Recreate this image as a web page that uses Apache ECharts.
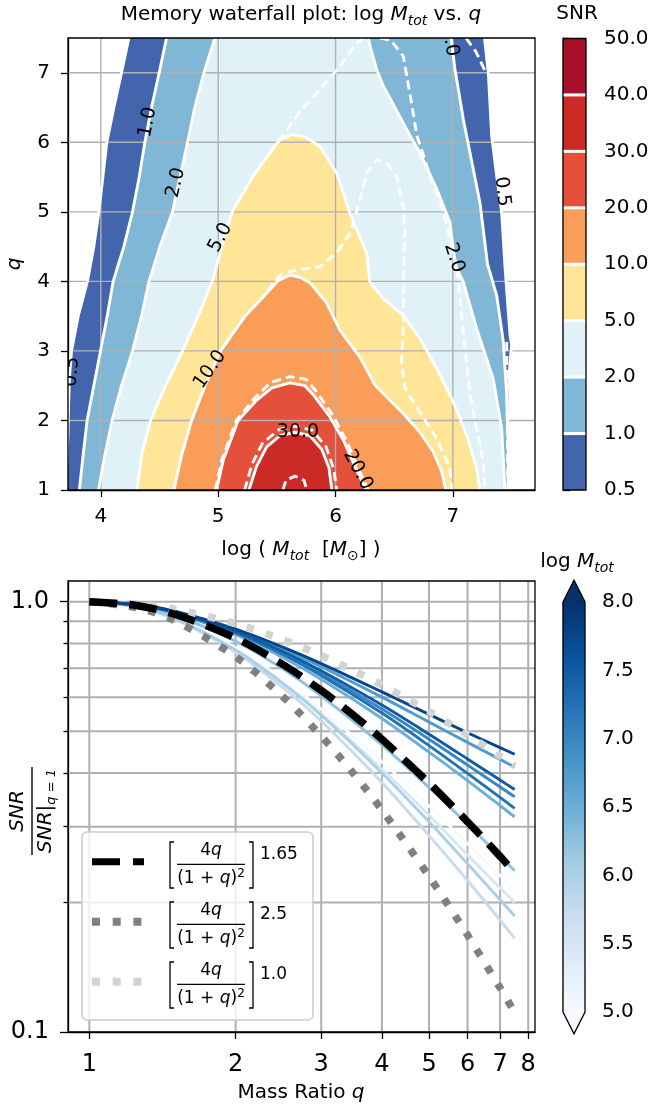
<!DOCTYPE html>
<html><head><meta charset="utf-8">
<script src="https://cdn.jsdelivr.net/npm/echarts@6/dist/echarts.min.js"></script>
<style>html,body{margin:0;padding:0;background:#fff}#c{width:652px;height:1110px}</style>
</head><body><div id="c"></div>
<script>
// ===================== DATA =====================
// ---- top panel: SNR contours in (log Mtot, q) ----
const topXTicks = [4, 5, 6, 7];
const topYTicks = [1, 2, 3, 4, 5, 6, 7];
const snrLevels = [0.5, 1, 2, 5, 10, 20, 30, 40, 50];
// solid contour boundaries [logM, q]
const c05Left  = [[3.70,1],[3.72,1.8],[3.725,2.2],[3.732,2.6],[3.75,3],[3.807,3.5],[3.885,4],[3.94,4.5],[3.983,5],[4.017,5.5],[4.051,6],[4.111,6.5],[4.176,7],[4.239,7.5]];
const c05Right = [[7.27,7.5],[7.302,7.0],[7.331,6.09],[7.373,5.52],[7.416,4.99],[7.444,4.22],[7.487,3.23],[7.501,3.08],[7.487,2.84],[7.472,2.46]];
const c1Left   = [[3.817,1],[3.849,1.5],[3.883,2],[3.94,2.5],[3.997,3],[4.054,3.5],[4.105,4],[4.196,4.5],[4.27,5],[4.327,5.5],[4.375,6],[4.432,6.5],[4.497,7],[4.56,7.5]];
const c1Right  = [[6.985,7.5],[7.018,7.05],[7.089,6.33],[7.146,5.85],[7.231,5.13],[7.295,4.25],[7.373,3.80],[7.43,3.13],[7.459,2.36],[7.472,1.64],[7.472,1]];
const c2Left   = [[3.98,1],[4.034,1.5],[4.096,2],[4.176,2.5],[4.27,3],[4.347,3.5],[4.41,4],[4.503,4.5],[4.611,5],[4.674,5.5],[4.739,6],[4.80,6.5],[4.878,7],[4.972,7.5]];
const c2Right  = [[6.28,7.5],[6.30,7.35],[6.35,7.05],[6.407,6.81],[6.49,6.55],[6.577,6.28],[6.65,6.05],[6.719,5.85],[6.862,5.33],[6.975,4.85],[7.003,4.46],[7.03,4.2],[7.089,3.99],[7.203,3.32],[7.344,2.60],[7.416,1.88],[7.444,1]];
const c5  = [[4.309,1],[4.347,1.5],[4.424,2],[4.552,2.5],[4.697,3],[4.829,3.5],[4.949,4],[5.032,4.5],[5.119,5],[5.296,5.51],[5.441,5.85],[5.526,6.04],[5.626,6.11],[5.739,6.08],[5.867,5.94],[6.009,5.56],[6.123,4.98],[6.265,4.41],[6.293,3.99],[6.407,3.75],[6.577,3.51],[6.719,3.18],[6.862,2.75],[7.003,2.27],[7.118,1.79],[7.203,1.31],[7.231,1]];
const c10 = [[4.622,1],[4.688,1.5],[4.773,2],[4.887,2.5],[5.02,3],[5.228,3.5],[5.413,3.83],[5.509,4.01],[5.611,4.09],[5.696,4.06],[5.782,3.98],[5.924,3.69],[6.037,3.30],[6.208,2.91],[6.336,2.51],[6.464,2.29],[6.577,2.10],[6.719,1.83],[6.833,1.55],[6.905,1.26],[6.941,1]];
const c20 = [[4.986,1],[5.043,1.43],[5.17,2],[5.327,2.29],[5.458,2.47],[5.611,2.54],[5.739,2.5],[5.81,2.37],[5.952,2.05],[6.066,1.72],[6.18,1.29],[6.26,1]];
const c30 = [[5.262,1],[5.327,1.34],[5.413,1.62],[5.526,1.78],[5.654,1.83],[5.782,1.78],[5.884,1.58],[5.944,1.32],[5.969,1]];
// dashed (second model) contours
const d5Upper  = [[5.441,5.85],[5.526,6.04],[5.696,6.44],[5.867,6.76],[6.037,7.09],[6.18,7.43],[6.235,7.5]];
const d2Right  = [[6.38,7.5],[6.47,7.47],[6.577,7.24],[6.637,6.67],[6.694,6.09],[6.75,5.81],[6.805,5.52],[6.90,5.1],[6.98,4.6],[7.04,4.12],[7.086,3.32],[7.146,2.37],[7.257,1.4],[7.274,1]];
const d10      = [[4.622,1],[4.688,1.5],[4.773,2],[4.887,2.5],[5.02,3],[5.228,3.5],[5.413,3.83],[5.483,4.02],[5.554,4.12],[5.696,4.17],[5.867,4.21],[6.009,4.41],[6.123,4.69],[6.208,5.17],[6.265,5.56],[6.35,5.75],[6.436,5.70],[6.521,5.51],[6.577,5.08],[6.592,4.69],[6.583,4.28],[6.577,3.32],[6.563,2.84],[6.592,2.46],[6.719,2.12],[6.862,1.74],[6.975,1.31],[6.99,1]];
const d20      = [[4.975,1],[5.03,1.43],[5.155,2],[5.315,2.33],[5.45,2.55],[5.611,2.63],[5.75,2.59],[5.83,2.43],[5.975,2.08],[6.09,1.72],[6.2,1.29],[6.28,1]];
const d30      = [[5.225,1],[5.29,1.38],[5.38,1.68],[5.52,1.87],[5.654,1.92],[5.80,1.86],[5.92,1.62],[5.985,1.3],[6.01,1]];
const d40      = [[5.552,1],[5.577,1.14],[5.654,1.2],[5.731,1.14],[5.756,1]];
const d1Right  = [[7.112,7.5],[7.197,7.3],[7.282,7.0]];
const d05Right = [[7.459,3.13],[7.461,2.29],[7.466,1.58],[7.47,1]];
// inline contour labels
const contourLabelText = ['1.0','2.0','5.0','10.0','30.0','20.0','2.0','0.5','1.0','0.5'];
const contourLabelPos  = [[4.40,6.29],[4.64,5.42],[5.02,4.63],[4.93,2.73],[5.68,1.83],[6.19,1.29],[7.01,4.34],[7.42,5.29],[6.975,7.45],[3.753,2.70]];
const contourLabelAngle = [79, 77, 62, 55, 0, -62, -72, -83, -80, 85];

// ---- bottom panel: SNR / SNR(q=1) vs q ----
const qGrid = [1, 1.25, 1.5, 2, 2.5, 3, 4, 5, 6, 7, 7.5];
const logMValues = [5.0, 5.5, 5.75, 6.0, 6.25, 6.5, 6.75, 7.0, 7.25, 7.5, 7.75];
const ratioM500 = [1, 0.974, 0.918, 0.781, 0.661, 0.563, 0.425, 0.335, 0.274, 0.231, 0.214];
const ratioM550 = [1, 0.973, 0.914, 0.772, 0.648, 0.549, 0.408, 0.319, 0.258, 0.216, 0.200];
const ratioM575 = [1, 0.972, 0.910, 0.763, 0.632, 0.528, 0.380, 0.286, 0.225, 0.182, 0.165];
const ratioM600 = [1, 0.973, 0.914, 0.772, 0.646, 0.545, 0.400, 0.308, 0.246, 0.203, 0.186];
const ratioM625 = [1, 0.978, 0.929, 0.809, 0.698, 0.604, 0.465, 0.370, 0.304, 0.256, 0.237];
const ratioM650 = [1, 0.982, 0.941, 0.838, 0.742, 0.660, 0.535, 0.447, 0.384, 0.336, 0.316];
const ratioM675 = [1, 0.984, 0.948, 0.858, 0.776, 0.706, 0.600, 0.525, 0.471, 0.430, 0.413];
const ratioM700 = [1, 0.983, 0.944, 0.848, 0.758, 0.681, 0.563, 0.479, 0.417, 0.371, 0.352];
const ratioM725 = [1, 0.983, 0.944, 0.846, 0.754, 0.674, 0.551, 0.463, 0.399, 0.351, 0.331];
const ratioM750 = [1, 0.983, 0.946, 0.853, 0.766, 0.691, 0.575, 0.492, 0.431, 0.385, 0.366];
const ratioM775 = [1, 0.985, 0.950, 0.863, 0.784, 0.718, 0.617, 0.547, 0.496, 0.458, 0.442];
const qRef = [1, 1.25, 1.5, 2, 2.5, 3, 3.5, 4, 5, 6, 7, 7.5];
const refPow165 = [1, 0.980, 0.935, 0.823, 0.715, 0.622, 0.544, 0.479, 0.379, 0.308, 0.256, 0.2345];
const refPow25  = [1, 0.969, 0.903, 0.745, 0.602, 0.487, 0.398, 0.328, 0.230, 0.168, 0.1266, 0.111];
const refPow10  = [1, 0.988, 0.960, 0.889, 0.816, 0.750, 0.691, 0.640, 0.556, 0.490, 0.4375, 0.415];
const bottomXTicks = [1, 2, 3, 4, 5, 6, 7, 8];
const bottomYMajor = [0.1, 1];
const bottomYMinor = [0.2, 0.3, 0.4, 0.5, 0.6, 0.7, 0.8, 0.9];
const massCbTicks = [5, 5.5, 6, 6.5, 7, 7.5, 8];

// ===================== STYLE / BUILD =====================
const F = 'DejaVu Sans';
const bandColors = ['#4265ae','#80b6d6','#e0f2f8','#fee597','#f99d59','#e5503a','#cc2a27','#a8102a'];
const bluesStops = ['#f7fbff','#deebf7','#c6dbef','#9ecae1','#6baed6','#4292c6','#2171b5','#08519c','#08306b'];
function hex(h){return [1,3,5].map(i=>parseInt(h.substr(i,2),16));}
function blues(t){t=Math.max(0,Math.min(1,t));const s=t*8;const i=Math.min(7,Math.floor(s));const f=s-i;const a=hex(bluesStops[i]),b=hex(bluesStops[i+1]);return 'rgb('+a.map((v,k)=>Math.round(v+(b[k]-v)*f)).join(',')+')';}

const fillShapes = [
  {pts: c05Left.concat(c05Right, c1Right.slice(-2)), band: 0},
  {pts: c1Left.concat(c1Right), band: 1},
  {pts: c2Left.concat(c2Right), band: 2},
  {pts: c5, band: 3},
  {pts: c10, band: 4},
  {pts: c20, band: 5},
  {pts: c30, band: 6}
];
const solidLines = [c05Left, c05Right, c1Left, c1Right, c2Left, c2Right, c5, c10, c20, c30];
const dashedLines = [d5Upper, d2Right, d10, d20, d30, d40, d1Right, d05Right];
const allContourLines = solidLines.map(p=>({p, dash:false})).concat(dashedLines.map(p=>({p, dash:true})));

const massRatios = [ratioM500, ratioM550, ratioM575, ratioM600, ratioM625, ratioM650, ratioM675, ratioM700, ratioM725, ratioM750, ratioM775];

function rectOf(cs){return {x:cs.x, y:cs.y, width:cs.width, height:cs.height};}

const series = [];
// --- top: filled bands
series.push({
  type:'custom', xAxisIndex:0, yAxisIndex:0, z:1, clip:true, silent:true,
  data: fillShapes.map(s=>s.pts[0]),
  renderItem:(params, api)=>{
    const s = fillShapes[params.dataIndex];
    const pts = echarts.graphic.clipPointsByRect(s.pts.map(p=>api.coord(p)), rectOf(params.coordSys));
    return {type:'polygon', shape:{points:pts}, style:{fill:bandColors[s.band]}};
  }
});
// --- top: grid lines (above fill)
series.push({
  type:'custom', xAxisIndex:0, yAxisIndex:0, z:2, silent:true,
  data: topXTicks.map(v=>[v,1]),
  renderItem:(params, api)=>{
    const v = api.value(0); const a = api.coord([v,1]), b = api.coord([v,7.5]);
    return {type:'line', shape:{x1:a[0],y1:a[1],x2:b[0],y2:b[1]}, style:{stroke:'#b0b0b0', lineWidth:1.4}};
  }
});
series.push({
  type:'custom', xAxisIndex:0, yAxisIndex:0, z:2, silent:true,
  data: topYTicks.slice(1).map(v=>[4,v]),
  renderItem:(params, api)=>{
    const v = api.value(1); const a = api.coord([3.72,v]), b = api.coord([7.7,v]);
    return {type:'line', shape:{x1:a[0],y1:a[1],x2:b[0],y2:b[1]}, style:{stroke:'#b0b0b0', lineWidth:1.4}};
  }
});
// --- top: contour lines
series.push({
  type:'custom', xAxisIndex:0, yAxisIndex:0, z:3, clip:true, silent:true,
  data: allContourLines.map(c=>c.p[0]),
  renderItem:(params, api)=>{
    const c = allContourLines[params.dataIndex];
    return {type:'polyline', shape:{points:c.p.map(p=>api.coord(p))},
      style:{stroke:'#fff', lineWidth:2.9, fill:null, lineDash: c.dash ? [9,5] : null, lineCap:'butt', lineJoin:'round'}};
  }
});
// --- top: contour labels
series.push({
  type:'custom', xAxisIndex:0, yAxisIndex:0, z:4, clip:true, silent:true,
  data: contourLabelPos,
  renderItem:(params, api)=>{
    const i = params.dataIndex; const p = api.coord(contourLabelPos[i]);
    return {type:'text', x:p[0], y:p[1], rotation: contourLabelAngle[i]*Math.PI/180,
      style:{text:contourLabelText[i], x:0, y:0, fill:'#000', fontSize:19, fontFamily:F, align:'center', verticalAlign:'middle'}};
  }
});
// --- frames
function frameSeries(xi, yi){
  return {type:'custom', xAxisIndex:xi, yAxisIndex:yi, z:6, silent:true, data:[[0,0]],
    renderItem:(params)=>{const cs=params.coordSys;return {type:'rect', shape:rectOf(cs), style:{fill:null, stroke:'#000', lineWidth:1.3}};}};
}
series.push(frameSeries(0,0));

// --- bottom: grid lines
series.push({
  type:'custom', xAxisIndex:1, yAxisIndex:1, z:1, silent:true,
  data: bottomXTicks.map(v=>[v,0.5]),
  renderItem:(params, api)=>{
    const v = api.value(0); const a = api.coord([v,0.1]), b = api.coord([v,1.117]);
    return {type:'line', shape:{x1:a[0],y1:a[1],x2:b[0],y2:b[1]}, style:{stroke:'#b0b0b0', lineWidth:2}};
  }
});
series.push({
  type:'custom', xAxisIndex:1, yAxisIndex:1, z:1, silent:true,
  data: bottomYMinor.concat([1]).map(v=>[2,v]),
  renderItem:(params, api)=>{
    const v = api.value(1); const a = api.coord([0.904,v]), b = api.coord([8.26,v]);
    return {type:'line', shape:{x1:a[0],y1:a[1],x2:b[0],y2:b[1]}, style:{stroke:'#b0b0b0', lineWidth:2}};
  }
});
// --- bottom: mass curves
massRatios.forEach((vals, k)=>{
  series.push({type:'line', xAxisIndex:1, yAxisIndex:1, z:3, silent:true, symbol:'none', smooth:0.3,
    data: qGrid.map((q,i)=>[q, vals[i]]),
    lineStyle:{color: blues((logMValues[k]-5)/3), width:2.9}});
});
// --- bottom: reference curves
series.push({type:'line', xAxisIndex:1, yAxisIndex:1, z:4, silent:true, symbol:'none', smooth:0.3,
  data: qRef.map((q,i)=>[q, refPow10[i]]), lineStyle:{color:'#d3d3d3', width:7.5, type:[7.5,12.5], cap:'butt'}});
series.push({type:'line', xAxisIndex:1, yAxisIndex:1, z:4, silent:true, symbol:'none', smooth:0.3,
  data: qRef.map((q,i)=>[q, refPow25[i]]), lineStyle:{color:'#808080', width:7.5, type:[7.5,12.5], cap:'butt'}});
series.push({type:'line', xAxisIndex:1, yAxisIndex:1, z:4, silent:true, symbol:'none', smooth:0.3,
  data: qRef.map((q,i)=>[q, refPow165[i]]), lineStyle:{color:'#000', width:7.5, type:[28,12], cap:'butt'}});
series.push(frameSeries(1,1));

// --- top colorbar
series.push({
  type:'custom', xAxisIndex:2, yAxisIndex:2, z:2, silent:true,
  data: bandColors.map((c,i)=>[0,i]),
  renderItem:(params, api)=>{
    const i = params.dataIndex; const p0 = api.coord([0,i]), p1 = api.coord([1,i+1]);
    const ch = [{type:'rect', shape:{x:p0[0], y:p1[1], width:p1[0]-p0[0], height:p0[1]-p1[1]}, style:{fill:bandColors[i]}}];
    if (i>0) ch.push({type:'line', shape:{x1:p0[0],y1:p0[1],x2:p1[0],y2:p0[1]}, style:{stroke:'#fff', lineWidth:3}});
    return {type:'group', children:ch};
  }
});
series.push(frameSeries(2,2));
// --- bottom colorbar
series.push({
  type:'custom', xAxisIndex:3, yAxisIndex:3, z:2, silent:true, data:[[0,5]],
  renderItem:(params, api)=>{
    const a = api.coord([0,5]), b = api.coord([1,8]);
    const h = a[1]-b[1]; const ext = 0.053*h; const xm = (a[0]+b[0])/2;
    const grad = new echarts.graphic.LinearGradient(0,1,0,0, bluesStops.map((c,i)=>({offset:i/8, color:c})));
    return {type:'group', children:[
      {type:'rect', shape:{x:a[0], y:b[1], width:b[0]-a[0], height:h}, style:{fill:grad}},
      {type:'polygon', shape:{points:[[a[0],b[1]],[b[0],b[1]],[xm,b[1]-ext]]}, style:{fill:bluesStops[8]}},
      {type:'polygon', shape:{points:[[a[0],a[1]],[b[0],a[1]],[xm,a[1]+ext]]}, style:{fill:bluesStops[0]}},
      {type:'polygon', shape:{points:[[a[0],b[1]],[xm,b[1]-ext],[b[0],b[1]],[b[0],a[1]],[xm,a[1]+ext],[a[0],a[1]]]}, style:{fill:null, stroke:'#000', lineWidth:1.3}}
    ]};
  }
});

const axisBlack = {show:true, lineStyle:{color:'#000', width:1.3}};
const tickBlack = (len)=>({show:true, length:len, lineStyle:{color:'#000', width:1.3}});

const option = {
  animation:false,
  backgroundColor:'#fff',
  grid:[
    {left:68, top:38, right:117, bottom:620},
    {left:68, top:581, right:117, bottom:78},
    {left:563, top:38.5, right:66, bottom:620},
    {left:563, top:602, right:67, bottom:98}
  ],
  xAxis:[
    {type:'value', gridIndex:0, min:3.72, max:7.7, axisLine:axisBlack, splitLine:{show:false},
     axisTick:Object.assign(tickBlack(7), {customValues: topXTicks}),
     axisLabel:{customValues: topXTicks, fontSize:20, fontFamily:F, color:'#000', margin:17, formatter:v=>String(Math.round(v))}},
    {type:'log', gridIndex:1, min:0.904, max:8.26, axisLine:axisBlack, splitLine:{show:false}, minorTick:{show:false},
     axisTick:Object.assign(tickBlack(7), {customValues: bottomXTicks}),
     axisLabel:{customValues: bottomXTicks, fontSize:24, fontFamily:F, color:'#000', margin:21, formatter:v=>String(Math.round(v))}},
    {type:'value', gridIndex:2, min:0, max:1, show:false},
    {type:'value', gridIndex:3, min:0, max:1, show:false}
  ],
  yAxis:[
    {type:'value', gridIndex:0, min:1, max:7.5, axisLine:axisBlack, splitLine:{show:false},
     axisTick:Object.assign(tickBlack(7), {customValues: topYTicks}),
     axisLabel:{customValues: topYTicks, fontSize:20, fontFamily:F, color:'#000', margin:18, formatter:v=>String(Math.round(v))}},
    {type:'log', gridIndex:1, min:0.1, max:1.117, axisLine:axisBlack, splitLine:{show:false}, minorTick:{show:false},
     axisTick:Object.assign(tickBlack(8), {customValues: bottomYMajor}),
     axisLabel:{customValues: bottomYMajor, fontSize:24, fontFamily:F, color:'#000', margin:19, formatter:v=>(v>0.5?'1.0':'0.1')}},
    {type:'value', gridIndex:2, min:0, max:8, interval:1, position:'right', axisLine:axisBlack, splitLine:{show:false},
     axisTick:tickBlack(7),
     axisLabel:{fontSize:20, fontFamily:F, color:'#000', margin:18, formatter:v=>snrLevels[Math.round(v)].toFixed(1)}},
    {type:'value', gridIndex:3, min:5, max:8, interval:0.5, position:'right', axisLine:axisBlack, splitLine:{show:false},
     axisTick:tickBlack(7),
     axisLabel:{fontSize:20, fontFamily:F, color:'#000', margin:17, formatter:v=>v.toFixed(1)}},
    {type:'log', gridIndex:1, min:0.1, max:1.117, position:'left', offset:0, axisLine:{show:false}, splitLine:{show:false},
     axisTick:Object.assign(tickBlack(4.5), {customValues: bottomYMinor}), axisLabel:{show:false}}
  ],
  series: series,
  graphic: []
};

// ---------- text / legend graphics ----------
const rich = {
  n:{fontSize:20, fontFamily:F, color:'#000', lineHeight:26},
  i:{fontSize:20, fontFamily:F, fontStyle:'italic', color:'#000', lineHeight:26},
  s:{fontSize:14, fontFamily:F, fontStyle:'italic', color:'#000', lineHeight:12, verticalAlign:'bottom'},
  su:{fontSize:14, fontFamily:F, color:'#000', lineHeight:12, verticalAlign:'bottom'}
};
const G = option.graphic;
function T(x,y,text,extra){G.push(Object.assign({type:'text', x, y, z:20, style:{text, rich, fontSize:20, fontFamily:F, fill:'#000', align:'center', verticalAlign:'middle'}}, extra||{}));}
T(301, 15, '{n|Memory waterfall plot: log }{i|M}{s|tot}{n| vs. }{i|q}');
T(577, 14, '{n|SNR}');
T(301, 550, '{n|log ( }{i|M}{s|tot}{n|  [}{i|M}{su|⊙}{n|] )}');
T(15, 264, '{i|q}', {rotation:Math.PI/2});
T(301, 1093, '{n|Mass Ratio }{i|q}');
T(577, 562, '{n|log }{i|M}{s|tot}');
// bottom y-axis label: fraction, rotated
G.push({type:'group', x:32, y:811, rotation:Math.PI/2, z:20, children:[
  {type:'text', x:0, y:-14, style:{text:'SNR', fontSize:20, fontFamily:F, fontStyle:'italic', fill:'#000', align:'center', verticalAlign:'middle'}},
  {type:'line', shape:{x1:-44, y1:0, x2:44, y2:0}, style:{stroke:'#000', lineWidth:1.4}},
  {type:'text', x:0, y:14, style:{text:'{i|SNR}{n||}{s|q = 1}', rich:{
      i:{fontSize:20, fontFamily:F, fontStyle:'italic', color:'#000', lineHeight:24},
      n:{fontSize:20, fontFamily:F, color:'#000', lineHeight:24},
      s:{fontSize:13, fontFamily:F, fontStyle:'italic', color:'#000', lineHeight:8, verticalAlign:'bottom'}},
    align:'center', verticalAlign:'middle'}}
]});
// legend
G.push({type:'rect', z:15, shape:{x:82, y:832, width:231, height:188, r:5}, style:{fill:'rgba(255,255,255,0.8)', stroke:'#cccccc', lineWidth:1.5}});
const legendEntries = [
  {stroke:'#000', dash:[28,13], exp:'1.65'},
  {stroke:'#808080', dash:[8,12.7], exp:'2.5'},
  {stroke:'#d3d3d3', dash:[8,12.7], exp:'1.0'}
];
legendEntries.forEach((e,k)=>{
  const dy = 60*k;
  G.push({type:'line', z:16, shape:{x1:92, y1:861.7+dy, x2:144, y2:861.7+dy}, style:{stroke:e.stroke, lineWidth:e.stroke==='#000'?7:8, lineDash:e.dash, lineCap:'butt'}});
  G.push({type:'polyline', z:16, shape:{points:[[174,842+dy],[170,842+dy],[170,888+dy],[174,888+dy]]}, style:{stroke:'#000', lineWidth:1.3, fill:null}});
  G.push({type:'polyline', z:16, shape:{points:[[249,842+dy],[253,842+dy],[253,888+dy],[249,888+dy]]}, style:{stroke:'#000', lineWidth:1.3, fill:null}});
  G.push({type:'line', z:16, shape:{x1:177, y1:864.3+dy, x2:245, y2:864.3+dy}, style:{stroke:'#000', lineWidth:1.3}});
  G.push({type:'text', z:16, x:211, y:851+dy, style:{text:'{n|4}{i|q}', rich:{n:{fontSize:17,fontFamily:F,color:'#000'}, i:{fontSize:17,fontFamily:F,fontStyle:'italic',color:'#000'}}, align:'center', verticalAlign:'middle'}});
  G.push({type:'text', z:16, x:211, y:879+dy, style:{text:'{n|(1 + }{i|q}{n|)}{p|2}', rich:{n:{fontSize:17,fontFamily:F,color:'#000',lineHeight:22}, i:{fontSize:17,fontFamily:F,fontStyle:'italic',color:'#000',lineHeight:22}, p:{fontSize:12,fontFamily:F,color:'#000',lineHeight:14,verticalAlign:'top'}}, align:'center', verticalAlign:'middle'}});
  G.push({type:'text', z:16, x:260, y:855+dy, style:{text:e.exp, fontSize:17, fontFamily:F, fill:'#000', align:'left', verticalAlign:'middle'}});
});

const chart = echarts.init(document.getElementById('c'), null, {renderer:'canvas', width:652, height:1110});
chart.setOption(option);
</script></body></html>
